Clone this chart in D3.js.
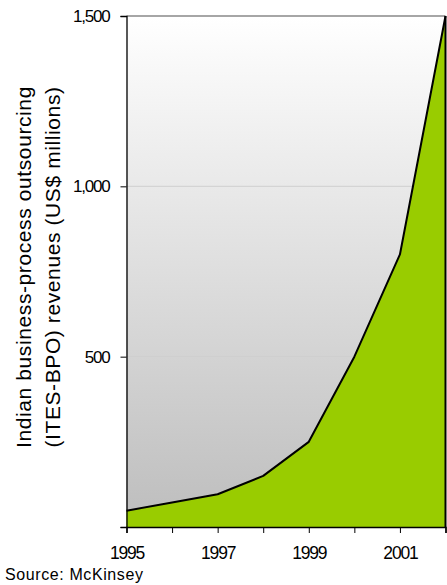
<!DOCTYPE html>
<html><head><meta charset="utf-8">
<script src="https://cdn.jsdelivr.net/npm/d3@7"></script>
<style>body{margin:0;background:#fff}svg{display:block;font-family:"Liberation Sans",Arial,sans-serif}</style>
</head><body>
<svg id="c" width="447" height="585"></svg>
<script>
const years = [1995, 1996, 1997, 1998, 1999, 2000, 2001, 2002];
const revenues = [48, 72, 96, 150, 250, 500, 800, 1500];
const yTicks = [500, 1000, 1500];
const xLabels = [1995, 1997, 1999, 2001];
const titleLines = ["Indian business-process outsourcing", "(ITES-BPO) revenues (US$ millions)"];
const source = "Source: McKinsey";

const svg = d3.select("#c");
const L = 126.5, R = 445.5, T = 16, B = 527;
const x = d3.scaleLinear().domain([1995, 2002]).range([L, R]);
const y = d3.scaleLinear().domain([0, 1500]).range([B, T]);

const defs = svg.append("defs");
const g = defs.append("linearGradient").attr("id","bg").attr("x1",0).attr("y1",0).attr("x2",0).attr("y2",1);
g.append("stop").attr("offset","0%").attr("stop-color","#ffffff");
g.append("stop").attr("offset","100%").attr("stop-color","#bdbdbd");

svg.append("rect").attr("x",L).attr("y",T).attr("width",R-L).attr("height",B-T).attr("fill","url(#bg)");

// gridlines
svg.append("g").selectAll("line").data(yTicks).join("line")
  .attr("x1",L).attr("x2",R).attr("y1",d=>y(d)).attr("y2",d=>y(d))
  .attr("stroke", d=> d===1500 ? "#888" : "#cfcfcf").attr("stroke-width", d=> d===1500?1.3:1);

const data = years.map((yr,i)=>({yr, v: revenues[i]}));
svg.append("path").datum(data)
  .attr("d", d3.area().x(d=>x(d.yr)).y0(B).y1(d=>y(d.v)))
  .attr("fill","#99cc00");
svg.append("path").datum(data)
  .attr("d", d3.line().x(d=>x(d.yr)).y(d=>y(d.v)))
  .attr("fill","none").attr("stroke","#000").attr("stroke-width",2).attr("stroke-linejoin","round");
svg.append("line").attr("x1",R).attr("x2",R).attr("y1",y(revenues[revenues.length-1])).attr("y2",B).attr("stroke","#000").attr("stroke-width",2);

const font = "'Liberation Sans',Arial,sans-serif";
// Y axis
const yAxis = d3.axisLeft(y).tickValues([0].concat(yTicks)).tickSize(6).tickPadding(11)
  .tickFormat(d=> d===0 ? "" : d3.format(",")(d));
const ya = svg.append("g").attr("transform",`translate(${L},0)`).call(yAxis);
ya.select(".domain").attr("stroke","#000").attr("stroke-width",1.3);
ya.selectAll(".tick line").attr("stroke","#000");
ya.selectAll(".tick text").attr("font-size",17).attr("fill","#000").attr("letter-spacing","-1.2px")
  .attr("font-family",font);

// X axis
const xAxis = d3.axisBottom(x).tickValues(years).tickSize(6).tickPadding(14)
  .tickFormat(d=> xLabels.includes(d) ? String(d) : "");
const xa = svg.append("g").attr("transform",`translate(0,${B})`).call(xAxis);
xa.select(".domain").attr("stroke","#000").attr("stroke-width",1.5);
xa.selectAll(".tick line").attr("stroke","#000");
xa.selectAll(".tick text").attr("font-size",17.5).attr("fill","#000").attr("letter-spacing","-1.2px")
  .attr("font-family",font);

// Y title
const tt = svg.append("text").attr("transform",`translate(0,267) rotate(-90)`)
  .attr("text-anchor","middle").attr("font-size",21).attr("letter-spacing","0.6px").attr("fill","#000");
titleLines.forEach((t,i)=>tt.append("tspan").attr("x",0).attr("y", 31 + i*29).text(t));

svg.append("text").attr("x",5).attr("y",580).attr("font-size",16).attr("letter-spacing","0.6px").attr("fill","#000").text(source);
</script>
</body></html>
